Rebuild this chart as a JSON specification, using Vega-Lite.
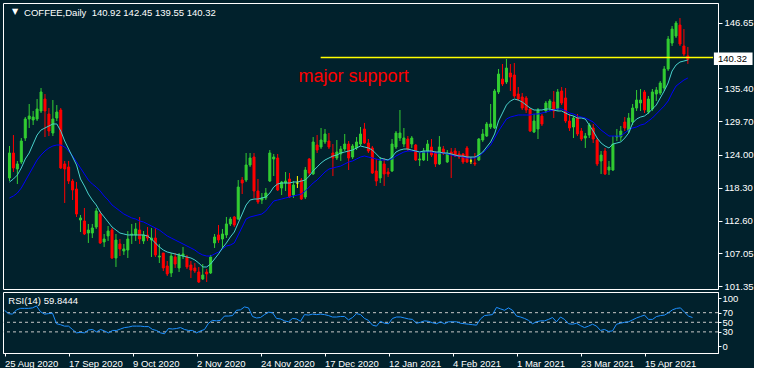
{
"$schema": "https://vega.github.io/schema/vega-lite/v6.json",
"background": "#01212c",
"padding": {"left": 2, "top": 2, "right": 0, "bottom": 0},
"spacing": 3,
"bounds": "flush",
"config": {
  "view": {"stroke": "#ffffff", "strokeWidth": 1},
  "axis": {"labelColor": "#ffffff", "tickColor": "#ffffff", "domainColor": "#ffffff", "labelFont": "Liberation Sans", "labelFontSize": 9.5, "grid": false, "title": null, "tickSize": 4, "labelPadding": 2, "labelOverlap": false, "labelBound": false},
  "text": {"font": "Liberation Sans"}
},
"datasets": {"bars": [
{"i":0,"o":119.97,"h":125.46,"l":119.45,"c":124.26,"mf":119.28,"ms":116.54,"rsi":75},
{"i":1,"o":124.26,"h":127.34,"l":121.00,"c":121.69,"mf":119.80,"ms":116.88,"rsi":68},
{"i":2,"o":121.52,"h":122.89,"l":118.94,"c":122.38,"mf":120.48,"ms":117.39,"rsi":67},
{"i":3,"o":122.72,"h":126.83,"l":122.38,"c":126.32,"mf":121.69,"ms":118.25,"rsi":76},
{"i":4,"o":126.83,"h":130.43,"l":126.32,"c":130.09,"mf":123.23,"ms":119.45,"rsi":79},
{"i":5,"o":130.09,"h":132.67,"l":128.55,"c":130.60,"mf":124.26,"ms":120.66,"rsi":79},
{"i":6,"o":129.92,"h":131.47,"l":129.06,"c":130.43,"mf":125.81,"ms":121.86,"rsi":79},
{"i":7,"o":130.09,"h":133.52,"l":129.75,"c":131.81,"mf":127.34,"ms":123.06,"rsi":80},
{"i":8,"o":131.47,"h":135.41,"l":131.12,"c":134.73,"mf":128.20,"ms":123.91,"rsi":84},
{"i":9,"o":133.52,"h":134.38,"l":127.00,"c":131.47,"mf":128.55,"ms":124.60,"rsi":72},
{"i":10,"o":130.95,"h":131.98,"l":127.17,"c":128.03,"mf":128.89,"ms":125.12,"rsi":67},
{"i":11,"o":127.69,"h":133.35,"l":127.17,"c":130.09,"mf":129.24,"ms":125.46,"rsi":68},
{"i":12,"o":130.26,"h":132.49,"l":129.75,"c":131.29,"mf":129.24,"ms":125.63,"rsi":69},
{"i":13,"o":131.64,"h":131.98,"l":121.52,"c":121.69,"mf":128.03,"ms":125.63,"rsi":47},
{"i":14,"o":122.38,"h":122.89,"l":115.68,"c":121.52,"mf":126.32,"ms":125.29,"rsi":45},
{"i":15,"o":121.86,"h":122.89,"l":118.94,"c":119.45,"mf":124.94,"ms":124.60,"rsi":42},
{"i":16,"o":119.45,"h":119.80,"l":116.19,"c":117.91,"mf":123.57,"ms":123.74,"rsi":42},
{"i":17,"o":118.08,"h":119.28,"l":113.28,"c":113.79,"mf":122.20,"ms":122.71,"rsi":35},
{"i":18,"o":112.76,"h":113.62,"l":110.70,"c":113.11,"mf":119.80,"ms":121.69,"rsi":28},
{"i":19,"o":112.59,"h":114.82,"l":110.19,"c":110.36,"mf":118.60,"ms":120.66,"rsi":29},
{"i":20,"o":110.53,"h":112.08,"l":108.82,"c":111.04,"mf":117.22,"ms":119.62,"rsi":28},
{"i":21,"o":110.53,"h":112.08,"l":109.67,"c":111.39,"mf":116.19,"ms":118.94,"rsi":34},
{"i":22,"o":111.56,"h":114.82,"l":111.22,"c":114.31,"mf":115.34,"ms":118.42,"rsi":35},
{"i":23,"o":113.79,"h":114.31,"l":108.65,"c":108.82,"mf":114.13,"ms":117.74,"rsi":30},
{"i":24,"o":108.99,"h":110.36,"l":108.13,"c":109.50,"mf":113.28,"ms":116.88,"rsi":35},
{"i":25,"o":110.02,"h":111.73,"l":109.16,"c":110.87,"mf":112.42,"ms":116.19,"rsi":32},
{"i":26,"o":111.04,"h":111.39,"l":106.07,"c":106.24,"mf":111.56,"ms":115.34,"rsi":28},
{"i":27,"o":106.24,"h":110.36,"l":104.70,"c":109.33,"mf":111.04,"ms":114.82,"rsi":33},
{"i":28,"o":108.65,"h":109.50,"l":106.58,"c":107.79,"mf":110.53,"ms":114.31,"rsi":33},
{"i":29,"o":107.44,"h":108.65,"l":106.76,"c":107.79,"mf":110.36,"ms":113.79,"rsi":36},
{"i":30,"o":107.61,"h":110.87,"l":106.24,"c":109.50,"mf":110.19,"ms":113.45,"rsi":39},
{"i":31,"o":110.19,"h":112.08,"l":108.65,"c":110.36,"mf":110.19,"ms":113.11,"rsi":40},
{"i":32,"o":110.19,"h":112.25,"l":109.16,"c":111.22,"mf":110.19,"ms":112.93,"rsi":42},
{"i":33,"o":111.04,"h":113.28,"l":108.65,"c":109.50,"mf":110.19,"ms":112.59,"rsi":42},
{"i":34,"o":109.16,"h":110.87,"l":108.65,"c":110.19,"mf":110.19,"ms":112.42,"rsi":42},
{"i":35,"o":110.19,"h":111.56,"l":109.16,"c":109.67,"mf":110.02,"ms":112.08,"rsi":41},
{"i":36,"o":109.33,"h":111.39,"l":106.41,"c":109.67,"mf":109.50,"ms":111.73,"rsi":41},
{"i":37,"o":109.67,"h":111.39,"l":106.41,"c":106.76,"mf":108.82,"ms":111.39,"rsi":35},
{"i":38,"o":106.41,"h":108.65,"l":105.38,"c":106.58,"mf":108.13,"ms":111.04,"rsi":33},
{"i":39,"o":107.10,"h":107.10,"l":104.01,"c":104.53,"mf":107.61,"ms":110.53,"rsi":28},
{"i":40,"o":104.87,"h":105.73,"l":103.15,"c":103.50,"mf":107.27,"ms":110.02,"rsi":26},
{"i":41,"o":103.67,"h":107.10,"l":102.98,"c":106.58,"mf":107.10,"ms":109.67,"rsi":37},
{"i":42,"o":106.41,"h":107.10,"l":104.53,"c":105.21,"mf":106.93,"ms":109.33,"rsi":36},
{"i":43,"o":104.53,"h":107.10,"l":103.84,"c":106.76,"mf":106.76,"ms":108.99,"rsi":37},
{"i":44,"o":106.58,"h":108.13,"l":106.07,"c":106.93,"mf":106.58,"ms":108.65,"rsi":39},
{"i":45,"o":106.41,"h":106.76,"l":104.35,"c":104.70,"mf":106.41,"ms":108.30,"rsi":35},
{"i":46,"o":105.04,"h":105.73,"l":102.81,"c":104.18,"mf":106.24,"ms":107.96,"rsi":33},
{"i":47,"o":104.53,"h":105.38,"l":103.67,"c":104.01,"mf":105.90,"ms":107.61,"rsi":33},
{"i":48,"o":103.84,"h":104.70,"l":101.95,"c":102.12,"mf":105.38,"ms":107.10,"rsi":28},
{"i":49,"o":102.64,"h":105.21,"l":102.47,"c":103.32,"mf":104.70,"ms":106.76,"rsi":32},
{"i":50,"o":103.84,"h":104.35,"l":102.12,"c":103.50,"mf":104.70,"ms":106.58,"rsi":35},
{"i":51,"o":103.67,"h":106.76,"l":103.50,"c":106.41,"mf":105.21,"ms":106.58,"rsi":48},
{"i":52,"o":108.82,"h":110.36,"l":107.96,"c":109.84,"mf":106.07,"ms":106.93,"rsi":54},
{"i":53,"o":110.19,"h":111.90,"l":108.82,"c":109.33,"mf":106.93,"ms":107.27,"rsi":53},
{"i":54,"o":109.50,"h":111.22,"l":107.96,"c":110.36,"mf":107.96,"ms":107.79,"rsi":54},
{"i":55,"o":110.19,"h":113.28,"l":109.67,"c":112.08,"mf":108.82,"ms":108.30,"rsi":63},
{"i":56,"o":112.08,"h":113.28,"l":111.73,"c":112.93,"mf":109.84,"ms":108.47,"rsi":63},
{"i":57,"o":113.28,"h":113.45,"l":111.56,"c":111.90,"mf":110.70,"ms":108.82,"rsi":64},
{"i":58,"o":112.93,"h":119.62,"l":112.76,"c":118.42,"mf":112.25,"ms":110.19,"rsi":75},
{"i":59,"o":119.62,"h":120.14,"l":117.22,"c":119.11,"mf":113.79,"ms":111.56,"rsi":76},
{"i":60,"o":119.62,"h":124.26,"l":119.28,"c":122.20,"mf":115.34,"ms":112.93,"rsi":82},
{"i":61,"o":122.20,"h":124.26,"l":121.86,"c":123.40,"mf":116.19,"ms":113.28,"rsi":80},
{"i":62,"o":123.57,"h":124.26,"l":116.54,"c":117.74,"mf":116.36,"ms":113.45,"rsi":62},
{"i":63,"o":117.74,"h":119.80,"l":115.51,"c":115.85,"mf":116.36,"ms":113.62,"rsi":59},
{"i":64,"o":116.19,"h":117.39,"l":115.51,"c":116.54,"mf":116.54,"ms":113.79,"rsi":60},
{"i":65,"o":116.54,"h":118.25,"l":116.19,"c":117.39,"mf":116.71,"ms":114.31,"rsi":66},
{"i":66,"o":119.45,"h":124.77,"l":119.28,"c":124.26,"mf":117.39,"ms":115.16,"rsi":71},
{"i":67,"o":123.23,"h":124.09,"l":120.31,"c":123.57,"mf":118.42,"ms":116.02,"rsi":70},
{"i":68,"o":123.40,"h":124.09,"l":117.74,"c":117.91,"mf":118.94,"ms":116.19,"rsi":58},
{"i":69,"o":118.25,"h":119.45,"l":117.05,"c":119.28,"mf":119.11,"ms":116.36,"rsi":57},
{"i":70,"o":119.11,"h":121.00,"l":117.74,"c":119.45,"mf":119.11,"ms":116.54,"rsi":53},
{"i":71,"o":119.80,"h":120.83,"l":116.54,"c":116.71,"mf":119.11,"ms":116.71,"rsi":51},
{"i":72,"o":117.05,"h":119.45,"l":116.54,"c":118.77,"mf":119.28,"ms":116.88,"rsi":58},
{"i":73,"o":119.11,"h":120.31,"l":118.25,"c":119.11,"mf":119.28,"ms":117.05,"rsi":57},
{"i":74,"o":119.62,"h":119.97,"l":116.19,"c":116.36,"mf":119.45,"ms":117.22,"rsi":52},
{"i":75,"o":116.71,"h":121.86,"l":116.36,"c":121.34,"mf":119.62,"ms":117.74,"rsi":66},
{"i":76,"o":123.23,"h":123.40,"l":120.31,"c":120.83,"mf":120.31,"ms":118.42,"rsi":65},
{"i":77,"o":120.66,"h":127.00,"l":120.49,"c":126.15,"mf":121.17,"ms":119.11,"rsi":67},
{"i":78,"o":125.63,"h":127.34,"l":124.26,"c":124.77,"mf":121.86,"ms":119.62,"rsi":66},
{"i":79,"o":125.29,"h":128.55,"l":124.94,"c":126.49,"mf":122.54,"ms":120.31,"rsi":67},
{"i":80,"o":126.15,"h":128.38,"l":125.80,"c":127.52,"mf":123.06,"ms":121.00,"rsi":66},
{"i":81,"o":126.32,"h":127.69,"l":124.94,"c":125.29,"mf":123.40,"ms":121.51,"rsi":64},
{"i":82,"o":124.26,"h":125.80,"l":120.31,"c":123.40,"mf":123.74,"ms":121.69,"rsi":61},
{"i":83,"o":123.40,"h":126.49,"l":123.06,"c":124.43,"mf":123.91,"ms":121.86,"rsi":61},
{"i":84,"o":124.09,"h":125.46,"l":122.89,"c":124.94,"mf":124.26,"ms":122.03,"rsi":62},
{"i":85,"o":124.94,"h":127.52,"l":124.60,"c":125.80,"mf":124.43,"ms":122.37,"rsi":62},
{"i":86,"o":125.80,"h":126.32,"l":121.34,"c":123.40,"mf":124.60,"ms":122.71,"rsi":55},
{"i":87,"o":123.57,"h":125.80,"l":123.23,"c":125.46,"mf":124.77,"ms":122.89,"rsi":60},
{"i":88,"o":125.12,"h":127.00,"l":124.77,"c":126.15,"mf":125.12,"ms":123.23,"rsi":68},
{"i":89,"o":125.80,"h":128.72,"l":125.46,"c":127.52,"mf":125.46,"ms":123.57,"rsi":66},
{"i":90,"o":128.38,"h":129.41,"l":125.80,"c":125.97,"mf":125.29,"ms":123.74,"rsi":58},
{"i":91,"o":125.97,"h":126.66,"l":124.26,"c":124.60,"mf":125.12,"ms":123.57,"rsi":54},
{"i":92,"o":125.12,"h":125.46,"l":120.66,"c":120.83,"mf":124.77,"ms":123.40,"rsi":44},
{"i":93,"o":121.17,"h":123.23,"l":118.60,"c":119.45,"mf":124.09,"ms":123.23,"rsi":42},
{"i":94,"o":119.97,"h":123.57,"l":119.11,"c":122.89,"mf":123.40,"ms":123.06,"rsi":52},
{"i":95,"o":122.38,"h":123.40,"l":118.60,"c":120.66,"mf":123.23,"ms":123.06,"rsi":48},
{"i":96,"o":121.00,"h":121.69,"l":120.14,"c":120.66,"mf":123.06,"ms":123.06,"rsi":47},
{"i":97,"o":121.17,"h":126.66,"l":121.00,"c":125.80,"mf":123.57,"ms":123.23,"rsi":58},
{"i":98,"o":125.29,"h":128.03,"l":124.94,"c":127.69,"mf":124.43,"ms":123.74,"rsi":61},
{"i":99,"o":126.83,"h":131.64,"l":126.32,"c":127.69,"mf":124.77,"ms":124.09,"rsi":61},
{"i":100,"o":125.80,"h":128.55,"l":125.29,"c":126.83,"mf":124.94,"ms":124.43,"rsi":59},
{"i":101,"o":126.66,"h":127.17,"l":124.60,"c":124.94,"mf":124.94,"ms":124.60,"rsi":57},
{"i":102,"o":125.80,"h":127.17,"l":125.12,"c":126.83,"mf":124.77,"ms":124.60,"rsi":56},
{"i":103,"o":125.63,"h":125.80,"l":122.89,"c":123.06,"mf":124.60,"ms":124.60,"rsi":48},
{"i":104,"o":123.06,"h":124.26,"l":122.03,"c":123.23,"mf":124.43,"ms":124.43,"rsi":50},
{"i":105,"o":123.06,"h":125.12,"l":122.89,"c":124.60,"mf":124.60,"ms":124.43,"rsi":53},
{"i":106,"o":124.60,"h":126.49,"l":122.89,"c":125.80,"mf":124.60,"ms":124.43,"rsi":52},
{"i":107,"o":125.29,"h":126.66,"l":123.57,"c":123.91,"mf":124.60,"ms":124.43,"rsi":49},
{"i":108,"o":124.26,"h":124.60,"l":121.86,"c":122.38,"mf":124.43,"ms":124.26,"rsi":47},
{"i":109,"o":122.38,"h":127.17,"l":122.20,"c":125.29,"mf":124.43,"ms":124.26,"rsi":51},
{"i":110,"o":124.94,"h":125.46,"l":123.91,"c":124.26,"mf":124.26,"ms":124.26,"rsi":47},
{"i":111,"o":122.72,"h":124.77,"l":122.55,"c":124.09,"mf":124.26,"ms":124.09,"rsi":51},
{"i":112,"o":124.43,"h":125.12,"l":119.97,"c":124.09,"mf":124.09,"ms":123.91,"rsi":51},
{"i":113,"o":124.60,"h":125.12,"l":123.57,"c":123.74,"mf":123.91,"ms":123.74,"rsi":51},
{"i":114,"o":124.09,"h":124.60,"l":123.23,"c":123.57,"mf":123.74,"ms":123.74,"rsi":48},
{"i":115,"o":124.09,"h":124.26,"l":122.38,"c":122.72,"mf":123.74,"ms":123.57,"rsi":47},
{"i":116,"o":125.12,"h":125.46,"l":122.55,"c":122.72,"mf":123.57,"ms":123.40,"rsi":46},
{"i":117,"o":122.89,"h":123.57,"l":122.38,"c":122.89,"mf":123.57,"ms":123.40,"rsi":45},
{"i":118,"o":122.55,"h":124.26,"l":122.03,"c":122.38,"mf":123.57,"ms":123.40,"rsi":44},
{"i":119,"o":123.06,"h":126.83,"l":122.89,"c":126.66,"mf":123.91,"ms":123.74,"rsi":57},
{"i":120,"o":126.49,"h":128.38,"l":126.15,"c":127.52,"mf":124.43,"ms":124.26,"rsi":64},
{"i":121,"o":127.17,"h":129.58,"l":127.00,"c":129.24,"mf":125.29,"ms":124.94,"rsi":65},
{"i":122,"o":128.72,"h":132.67,"l":128.38,"c":129.24,"mf":126.15,"ms":125.63,"rsi":66},
{"i":123,"o":128.55,"h":135.24,"l":128.38,"c":134.90,"mf":127.52,"ms":126.83,"rsi":81},
{"i":124,"o":134.73,"h":138.67,"l":134.38,"c":137.81,"mf":129.75,"ms":128.03,"rsi":78},
{"i":125,"o":136.95,"h":139.53,"l":135.75,"c":136.10,"mf":131.12,"ms":129.06,"rsi":75},
{"i":126,"o":136.44,"h":140.39,"l":136.10,"c":138.84,"mf":132.49,"ms":130.09,"rsi":80},
{"i":127,"o":137.98,"h":139.53,"l":134.90,"c":137.30,"mf":133.18,"ms":130.43,"rsi":75},
{"i":128,"o":137.64,"h":139.70,"l":133.70,"c":134.04,"mf":133.52,"ms":130.61,"rsi":63},
{"i":129,"o":134.38,"h":135.58,"l":133.18,"c":133.52,"mf":133.35,"ms":130.78,"rsi":61},
{"i":130,"o":133.87,"h":134.55,"l":131.64,"c":131.98,"mf":133.01,"ms":130.78,"rsi":58},
{"i":131,"o":133.70,"h":134.04,"l":131.12,"c":131.64,"mf":132.49,"ms":130.78,"rsi":54},
{"i":132,"o":131.81,"h":131.98,"l":127.86,"c":128.03,"mf":131.98,"ms":130.78,"rsi":47},
{"i":133,"o":127.86,"h":130.95,"l":127.69,"c":129.75,"mf":131.64,"ms":130.95,"rsi":51},
{"i":134,"o":128.38,"h":131.98,"l":126.66,"c":131.64,"mf":131.64,"ms":130.95,"rsi":53},
{"i":135,"o":130.60,"h":130.95,"l":128.89,"c":129.24,"mf":131.64,"ms":131.12,"rsi":53},
{"i":136,"o":131.47,"h":133.18,"l":131.12,"c":132.84,"mf":131.81,"ms":131.29,"rsi":56},
{"i":137,"o":131.98,"h":133.52,"l":131.47,"c":133.18,"mf":131.81,"ms":131.47,"rsi":60},
{"i":138,"o":133.01,"h":134.90,"l":130.26,"c":131.47,"mf":131.64,"ms":131.64,"rsi":51},
{"i":139,"o":131.81,"h":135.24,"l":131.47,"c":134.73,"mf":131.47,"ms":131.81,"rsi":61},
{"i":140,"o":134.90,"h":135.58,"l":132.49,"c":132.84,"mf":131.47,"ms":131.81,"rsi":56},
{"i":141,"o":133.70,"h":135.41,"l":129.41,"c":129.75,"mf":131.12,"ms":131.47,"rsi":47},
{"i":142,"o":129.75,"h":130.95,"l":128.03,"c":128.55,"mf":130.78,"ms":131.12,"rsi":46},
{"i":143,"o":128.72,"h":130.60,"l":126.83,"c":130.26,"mf":130.61,"ms":130.95,"rsi":48},
{"i":144,"o":130.26,"h":130.95,"l":127.17,"c":127.52,"mf":130.26,"ms":130.61,"rsi":43},
{"i":145,"o":128.03,"h":128.55,"l":126.32,"c":126.66,"mf":130.26,"ms":130.43,"rsi":39},
{"i":146,"o":126.83,"h":127.69,"l":125.12,"c":127.17,"mf":130.09,"ms":130.26,"rsi":42},
{"i":147,"o":127.34,"h":129.41,"l":126.83,"c":129.06,"mf":129.06,"ms":129.92,"rsi":46},
{"i":148,"o":128.55,"h":129.24,"l":125.97,"c":126.66,"mf":128.03,"ms":129.58,"rsi":42},
{"i":149,"o":126.49,"h":126.83,"l":122.03,"c":122.38,"mf":126.83,"ms":128.89,"rsi":33},
{"i":150,"o":122.89,"h":124.60,"l":120.66,"c":123.91,"mf":125.97,"ms":128.20,"rsi":35},
{"i":151,"o":124.60,"h":125.12,"l":120.49,"c":120.66,"mf":125.46,"ms":127.69,"rsi":31},
{"i":152,"o":121.34,"h":122.89,"l":120.49,"c":121.86,"mf":125.12,"ms":127.17,"rsi":32},
{"i":153,"o":121.34,"h":127.17,"l":121.17,"c":125.80,"mf":125.80,"ms":127.17,"rsi":46},
{"i":154,"o":127.00,"h":128.38,"l":126.32,"c":127.17,"mf":125.97,"ms":127.17,"rsi":48},
{"i":155,"o":127.00,"h":128.89,"l":126.32,"c":128.03,"mf":126.15,"ms":127.17,"rsi":50},
{"i":156,"o":129.58,"h":130.43,"l":128.03,"c":128.55,"mf":126.83,"ms":127.69,"rsi":51},
{"i":157,"o":128.03,"h":131.12,"l":127.69,"c":130.26,"mf":127.69,"ms":128.20,"rsi":55},
{"i":158,"o":129.58,"h":132.67,"l":129.06,"c":131.98,"mf":129.41,"ms":128.55,"rsi":59},
{"i":159,"o":131.98,"h":135.07,"l":131.47,"c":133.35,"mf":130.09,"ms":128.72,"rsi":62},
{"i":160,"o":132.84,"h":135.24,"l":131.47,"c":133.35,"mf":130.43,"ms":129.06,"rsi":65},
{"i":161,"o":134.73,"h":135.07,"l":131.12,"c":131.64,"mf":130.61,"ms":129.24,"rsi":56},
{"i":162,"o":131.29,"h":134.04,"l":130.95,"c":133.52,"mf":131.12,"ms":129.75,"rsi":56},
{"i":163,"o":131.81,"h":135.24,"l":131.47,"c":134.73,"mf":131.81,"ms":130.26,"rsi":62},
{"i":164,"o":134.38,"h":135.58,"l":133.18,"c":135.07,"mf":132.49,"ms":130.95,"rsi":64},
{"i":165,"o":134.55,"h":136.61,"l":134.21,"c":136.27,"mf":133.70,"ms":131.64,"rsi":65},
{"i":166,"o":135.41,"h":139.18,"l":134.90,"c":138.67,"mf":134.90,"ms":132.32,"rsi":70},
{"i":167,"o":138.67,"h":144.33,"l":138.33,"c":143.82,"mf":136.27,"ms":133.18,"rsi":76},
{"i":168,"o":143.13,"h":146.05,"l":142.62,"c":145.53,"mf":138.33,"ms":134.55,"rsi":79},
{"i":169,"o":144.33,"h":146.91,"l":143.99,"c":146.56,"mf":139.36,"ms":135.75,"rsi":80},
{"i":170,"o":146.22,"h":147.42,"l":142.62,"c":142.96,"mf":139.87,"ms":136.27,"rsi":71},
{"i":171,"o":142.62,"h":145.53,"l":140.90,"c":141.25,"mf":140.04,"ms":136.78,"rsi":63},
{"i":172,"o":140.92,"h":142.45,"l":139.55,"c":140.32,"mf":140.22,"ms":137.13,"rsi":59.8444}
]},
"vconcat": [
{
  "width": 715, "height": 286,
  "data": {"name": "bars"},
  "layer": [
    {
      "mark": {"type": "rule", "strokeWidth": 1},
      "encoding": {
        "x": {"field": "i", "type": "quantitative", "scale": {"domain": [-0.375, 178.375], "nice": false, "zero": false}, "axis": null},
        "y": {"field": "l", "type": "quantitative", "scale": {"domain": [100.92, 150.0], "nice": false, "zero": false},
              "axis": {"orient": "right", "values": [101.35, 107.05, 112.6, 118.3, 124.0, 129.7, 135.4, 140.95, 146.65], "tickCount": 50, "labelExpr": "datum.value == 140.95 ? '' : format(datum.value, '.2f')", "tickSize": 4, "labelPadding": 2, "labelOverlap": false, "labelBound": false, "labelFlush": false}},
        "y2": {"field": "h"},
        "color": {"condition": [{"test": "datum.c > datum.o", "value": "#32cd32"}, {"test": "datum.c == datum.o", "value": "#ffff00"}], "value": "#ff0000"}
      }
    },
    {
      "mark": {"type": "bar", "size": 2, "strokeWidth": 1},
      "encoding": {
        "x": {"field": "i", "type": "quantitative"},
        "y": {"field": "o", "type": "quantitative"},
        "y2": {"field": "c"},
        "fill": {"condition": [{"test": "datum.c > datum.o", "value": "#32cd32"}, {"test": "datum.c == datum.o", "value": "#ffff00"}], "value": "#ff0000"},
        "stroke": {"condition": [{"test": "datum.c > datum.o", "value": "#32cd32"}, {"test": "datum.c == datum.o", "value": "#ffff00"}], "value": "#ff0000"}
      }
    },
    {
      "mark": {"type": "line", "color": "#0000ff", "strokeWidth": 1},
      "encoding": {"x": {"field": "i", "type": "quantitative"}, "y": {"field": "ms", "type": "quantitative"}}
    },
    {
      "mark": {"type": "line", "color": "#48d1cc", "strokeWidth": 1},
      "encoding": {"x": {"field": "i", "type": "quantitative"}, "y": {"field": "mf", "type": "quantitative"}}
    },
    {
      "data": {"values": [{}]},
      "mark": {"type": "rule", "color": "#ffff00", "strokeWidth": 1.5},
      "encoding": {"x": {"datum": 78.9, "type": "quantitative"}, "x2": {"datum": 178.375}, "y": {"datum": 140.647, "type": "quantitative"}}
    },
    {
      "data": {"values": [{}]},
      "mark": {"type": "text", "text": "major support", "color": "#ff0000", "fontSize": 18, "align": "left", "baseline": "alphabetic", "font": "Liberation Sans"},
      "encoding": {"x": {"datum": 73.3, "type": "quantitative"}, "y": {"datum": 136.44, "type": "quantitative"}}
    },
    {
      "data": {"values": [{}]},
      "mark": {"type": "text", "text": "▼", "color": "#ffffff", "fontSize": 8, "align": "center", "baseline": "middle", "font": "DejaVu Sans"},
      "encoding": {"x": {"datum": 1.45, "type": "quantitative"}, "y": {"datum": 148.45, "type": "quantitative"}}
    },
    {
      "data": {"values": [{}]},
      "mark": {"type": "text", "text": "COFFEE,Daily\u00a0 140.92 142.45 139.55 140.32", "color": "#ffffff", "fontSize": 9.5, "align": "left", "baseline": "alphabetic"},
      "encoding": {"x": {"datum": 3.7, "type": "quantitative"}, "y": {"datum": 147.82, "type": "quantitative"}}
    },
    {
      "data": {"values": [{}]},
      "mark": {"type": "rect", "color": "#ffffff", "clip": false},
      "encoding": {"x": {"datum": 178.6, "type": "quantitative"}, "x2": {"datum": 188.4}, "y": {"datum": 141.5, "type": "quantitative"}, "y2": {"datum": 139.36}}
    },
    {
      "data": {"values": [{}]},
      "mark": {"type": "text", "text": "140.32", "color": "#000000", "fontSize": 9.5, "align": "center", "baseline": "middle", "clip": false},
      "encoding": {"x": {"datum": 183.3, "type": "quantitative"}, "y": {"datum": 140.4, "type": "quantitative"}}
    }
  ]
},
{
  "width": 715, "height": 61,
  "data": {"name": "bars"},
  "layer": [
    {
      "data": {"values": [{"level": 30}, {"level": 50}, {"level": 70}]},
      "mark": {"type": "rule", "color": "#c8c8c8", "strokeDash": [3, 3], "strokeWidth": 1},
      "encoding": {
        "y": {"field": "level", "type": "quantitative", "scale": {"domain": [-14, 113.1], "nice": false, "zero": false},
              "axis": {"orient": "right", "values": [0, 30, 50, 70, 100], "tickCount": 50, "tickSize": 3, "labelPadding": 1, "labelOverlap": false, "labelBound": false, "labelFlush": false}}
      }
    },
    {
      "mark": {"type": "line", "color": "#1e90ff", "strokeWidth": 1},
      "encoding": {
        "x": {"field": "i", "type": "quantitative", "scale": {"domain": [-0.375, 178.375], "nice": false, "zero": false},
              "axis": {"values": [0, 16, 32, 48, 64, 80, 96, 112, 128, 144, 160], "tickCount": 50, "labelExpr": "['25 Aug 2020','17 Sep 2020','9 Oct 2020','2 Nov 2020','24 Nov 2020','17 Dec 2020','12 Jan 2021','4 Feb 2021','1 Mar 2021','23 Mar 2021','15 Apr 2021'][round(datum.value/16)]", "labelAlign": "left", "labelFlush": false, "labelOverlap": false, "tickSize": 3, "labelPadding": 2}},
        "y": {"field": "rsi", "type": "quantitative"}
      }
    },
    {
      "data": {"values": [{}]},
      "mark": {"type": "text", "text": "RSI(14) 59.8444", "color": "#ffffff", "fontSize": 9.5, "align": "left", "baseline": "alphabetic"},
      "encoding": {"x": {"datum": 0.95, "type": "quantitative"}, "y": {"datum": 87.5, "type": "quantitative"}}
    }
  ]
}
]
}
